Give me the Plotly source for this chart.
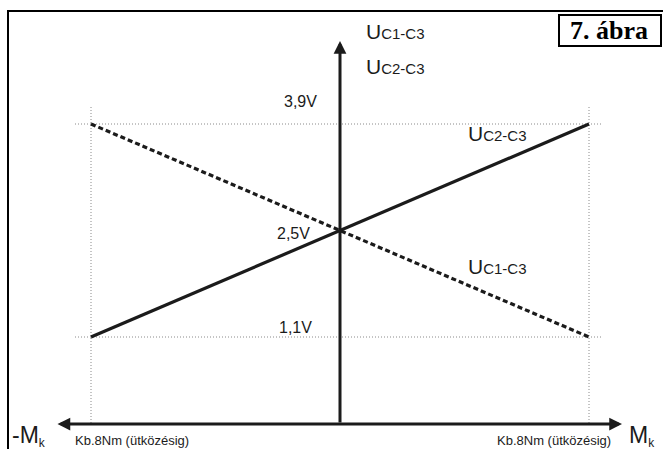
import plotly.graph_objects as go

# ---------------- data ----------------
torque_nm = [-8, 0, 8]                 # -Mk ... +Mk (approx. 8 Nm end stop)
u_c1_c3 = [3.9, 2.5, 1.1]              # dashed line
u_c2_c3 = [1.1, 2.5, 3.9]              # solid line
voltage_ticks = [3.9, 2.5, 1.1]
voltage_labels = ["3,9V", "2,5V", "1,1V"]
torque_label = "Kb.8Nm (ütközésig)"

# ---------------- layout geometry ----------------
W, H = 663, 449
X_ZERO_PX, PX_PER_NM = 340.0, 31.125
Y_MID_PX, PX_PER_V, V_MID = 230.5, 76.07, 2.5


def dx(px):
    return (px - X_ZERO_PX) / PX_PER_NM


def dy(py):
    return V_MID + (Y_MID_PX - py) / PX_PER_V


def px_(x):
    return x / W


def py_(y):
    return 1 - y / H


INK = "#1b1b1b"
GRID = "#8a8a8a"
SANS = "Liberation Sans, Arial, sans-serif"

fig = go.Figure()

fig.add_trace(go.Scatter(x=torque_nm, y=u_c2_c3, mode="lines",
                         line=dict(color=INK, width=3.2), hoverinfo="skip"))
fig.add_trace(go.Scatter(x=torque_nm, y=u_c1_c3, mode="lines",
                         line=dict(color=INK, width=3.2, dash="5px,3px"), hoverinfo="skip"))

axis_v = dy(424)

shapes = []
# dotted guide lines
for xv in (torque_nm[0], torque_nm[-1]):
    shapes.append(dict(type="line", xref="x", yref="y", x0=xv, x1=xv,
                       y0=dy(107), y1=axis_v, layer="below",
                       line=dict(color=GRID, width=1, dash="1px,2px")))
for yv in (max(u_c2_c3), min(u_c2_c3)):
    shapes.append(dict(type="line", xref="x", yref="y", x0=dx(75), x1=dx(603),
                       y0=yv, y1=yv, layer="below",
                       line=dict(color=GRID, width=1, dash="1px,2px")))
# outer frame
shapes.append(dict(type="rect", xref="paper", yref="paper",
                   x0=px_(8), x1=1.2, y0=-0.2, y1=py_(11), layer="below",
                   line=dict(color="#000000", width=2)))
# title box
shapes.append(dict(type="rect", xref="paper", yref="paper",
                   x0=px_(559), x1=px_(661), y0=py_(46), y1=py_(15),
                   fillcolor="white", line=dict(color="#000000", width=2)))

annotations = []
# vertical axis arrow
annotations.append(dict(x=0, y=dy(41), ax=0, ay=axis_v, xref="x", yref="y",
                        axref="x", ayref="y", text="", showarrow=True,
                        arrowhead=2, arrowsize=0.85, arrowwidth=3, arrowcolor=INK,
                        standoff=0, startstandoff=0))
# horizontal axis arrow (both ends)
annotations.append(dict(x=dx(622), y=axis_v, ax=dx(56), ay=axis_v, xref="x", yref="y",
                        axref="x", ayref="y", text="", showarrow=True,
                        arrowhead=2, startarrowhead=2, arrowside="end+start",
                        arrowsize=0.85, startarrowsize=0.85, arrowwidth=3, arrowcolor=INK,
                        standoff=0, startstandoff=0))


def txt(text, x, y, size, xanchor="center", family=SANS, color=INK):
    annotations.append(dict(text=text, x=px_(x), y=py_(y), xref="paper", yref="paper",
                            showarrow=False, xanchor=xanchor, yanchor="middle",
                            font=dict(family=family, size=size, color=color)))


def u_label(sub):
    return "U<span style='font-size:15px'>" + sub + "</span>"


# voltage labels
label_x = [300, 293, 295]
label_y = [102, 234, 327]
for lab, lx, ly in zip(voltage_labels, label_x, label_y):
    txt(lab, lx, ly, 16)

# axis titles
txt(u_label("C1-C3"), 364, 32, 21, xanchor="left")
txt(u_label("C2-C3"), 364, 66, 21, xanchor="left")
txt(u_label("C2-C3"), 466, 133, 21, xanchor="left")
txt(u_label("C1-C3"), 466, 266, 21, xanchor="left")

# torque axis labels
txt("<span style='font-size:23px'>-M</span><sub>k</sub>", 10, 436, 17, xanchor="left")
txt("<span style='font-size:23px'>M</span><sub>k</sub>", 627, 436, 17, xanchor="left")
txt(torque_label, 73, 440, 13, xanchor="left")
txt(torque_label, 613, 440, 13, xanchor="right")

# figure title
txt("<b>7. ábra</b>", 609, 31, 26, family="Liberation Serif, Times New Roman, serif",
    color="#000000")

fig.update_layout(
    width=W, height=H,
    margin=dict(l=0, r=0, t=0, b=0),
    paper_bgcolor="white", plot_bgcolor="white",
    showlegend=False,
    xaxis=dict(range=[dx(0), dx(W)], visible=False, fixedrange=True),
    yaxis=dict(range=[dy(H), dy(0)], visible=False, fixedrange=True),
    shapes=shapes,
    annotations=annotations,
)

fig.write_html(
    "out.html",
    config={"displayModeBar": False},
    post_script="document.body.style.margin='0';document.body.style.overflow='hidden';",
)
